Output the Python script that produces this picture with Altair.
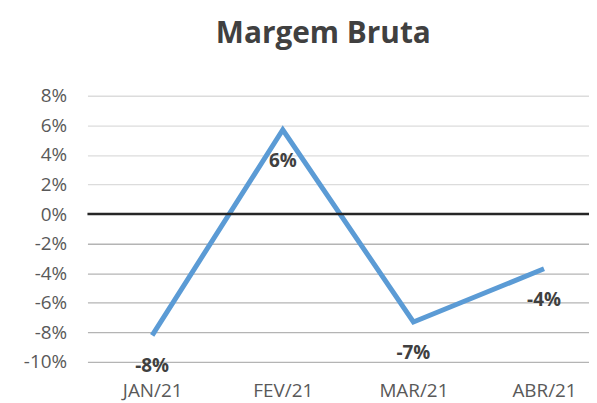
import altair as alt
import pandas as pd

months = ["JAN/21", "FEV/21", "MAR/21", "ABR/21"]
margem = [-8.2, 5.7, -7.3, -3.7]
y_ticks = [-10, -8, -6, -4, -2, 0, 2, 4, 6, 8]

df = pd.DataFrame({"mes": months, "v": margem})

FONT = "Open Sans"
W, H = 505, 268

x_enc = alt.X("mes:N", sort=months, title=None,
              scale=alt.Scale(type="point", padding=0.42, align=0.59, round=False),
              axis=alt.Axis(domain=False, ticks=False, labelPadding=20, labelAngle=0,
                            labelFontSize=19, labelColor="#595959", labelFont=FONT,
                            grid=False))
y_enc = alt.Y("v:Q", title=None,
              scale=alt.Scale(domain=[-10, 8], nice=False, round=False),
              axis=alt.Axis(values=y_ticks, tickCount=30, labelExpr="datum.value + '%'",
                            domain=False, ticks=False, labelPadding=21, labelOverlap=False,
                            labelFontSize=19, labelColor="#595959", labelFont=FONT,
                            gridColor={"condition": {"test": "datum.value < 0", "value": "#B4B4B4"},
                                       "value": "#DCDCDC"},
                            gridWidth=1.3))

base = alt.Chart(df)

line = base.mark_line(color="#5B9BD5", strokeWidth=5, strokeJoin="miter").encode(x=x_enc, y=y_enc)

zero = alt.Chart(pd.DataFrame({"z": [0]})).mark_rule(color="#262626", strokeWidth=2.5).encode(
    y=alt.Y("z:Q")
)

labels = base.transform_calculate(
    lab="round(datum.v) + '%'"
).mark_text(dy=31, fontSize=19, fontWeight="bold", color="#404040", font=FONT,
            baseline="middle", align="center").encode(
    x=alt.X("mes:N", sort=months), y=alt.Y("v:Q"), text="lab:N"
)

chart = alt.layer(line, zero, labels).properties(
    width=W, height=H,
    title=alt.TitleParams("Margem Bruta", fontSize=30, fontWeight="bold", color="#404040",
                          font=FONT, anchor="middle", dx=-15, offset=38),
    autosize=alt.AutoSizeParams(type="none"),
    padding={"left": 80, "top": 87, "right": 0, "bottom": 40},
).configure_view(stroke=None)

chart.save("out.html", embed_options={"renderer": "svg", "actions": False})
